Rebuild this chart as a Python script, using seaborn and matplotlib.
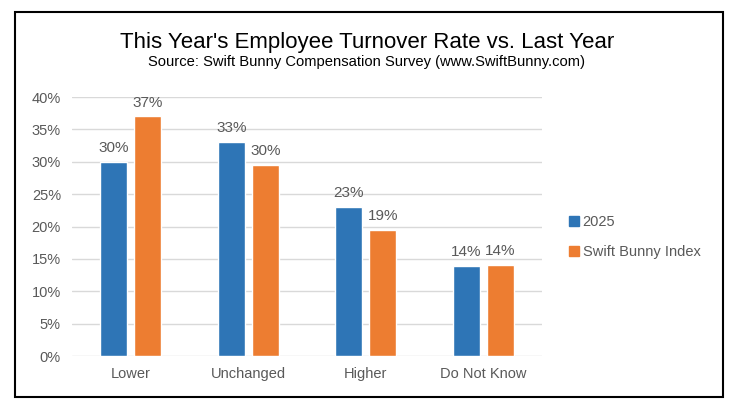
import seaborn as sns
import matplotlib.pyplot as plt
import pandas as pd
from matplotlib.patches import Rectangle
from matplotlib.ticker import FuncFormatter

# Données
categories = ['Lower', 'Unchanged', 'Higher', 'Do Not Know']
series_names = ['2025', 'Swift Bunny Index']
values_2025 = [30, 33, 23, 13.9]
values_index = [37, 29.5, 19.4, 14.1]
yticks = [0, 5, 10, 15, 20, 25, 30, 35, 40]

colors = ['#2E75B6', '#ED7D31']
grey = '#595959'

df = pd.DataFrame({
    'Category': categories * 2,
    'Series': [series_names[0]] * 4 + [series_names[1]] * 4,
    'Value': values_2025 + values_index,
})

sns.set_theme(style="white")
plt.rcParams['font.family'] = ['Liberation Sans', 'DejaVu Sans']

fig = plt.figure(figsize=(7.31, 4.13), dpi=100)
ax = fig.add_axes([0.0985, 0.138, 0.643, 0.627])

sns.barplot(data=df, x='Category', y='Value', hue='Series', order=categories,
            hue_order=series_names, palette=colors, width=0.578, gap=0.206,
            saturation=1, legend=False, ax=ax)

for cont in ax.containers:
    ax.bar_label(cont, labels=[f"{round(b.get_height())}%" for b in cont],
                 padding=5, fontsize=11, color=grey)

ax.set_ylim(0, 40)
ax.set_yticks(yticks)
ax.yaxis.set_major_formatter(FuncFormatter(lambda v, _: f"{v:.0f}%"))
ax.yaxis.grid(True, color='#D9D9D9', linewidth=1)
ax.set_axisbelow(True)
ax.set_xlabel('')
ax.set_ylabel('')
ax.tick_params(axis='both', labelsize=10.5, colors=grey, length=0, pad=8)
ax.set_xlim(-0.5, 3.5)
for s in ax.spines.values():
    s.set_visible(False)

# Légende à droite
handles = [plt.Line2D([], [], marker='s', linestyle='', color=c, markersize=7)
           for c in colors]
fig.legend(handles, series_names, loc='center left', bbox_to_anchor=(0.757, 0.425),
           frameon=False, fontsize=10.5, labelcolor=grey, handletextpad=0.1,
           labelspacing=1.1, handlelength=1.0)

fig.text(0.502, 0.897, "This Year's Employee Turnover Rate vs. Last Year",
         ha='center', va='center', fontsize=16, color='black')
fig.text(0.502, 0.849, "Source: Swift Bunny Compensation Survey (www.SwiftBunny.com)",
         ha='center', va='center', fontsize=10.6, color='black')

# Cadre noir
fig.patches.append(Rectangle((15 / 731, 1 - 397 / 413), 708 / 731, 385 / 413,
                             transform=fig.transFigure, fill=False,
                             edgecolor='black', linewidth=1.5))

fig.savefig('out.png', dpi=100)
